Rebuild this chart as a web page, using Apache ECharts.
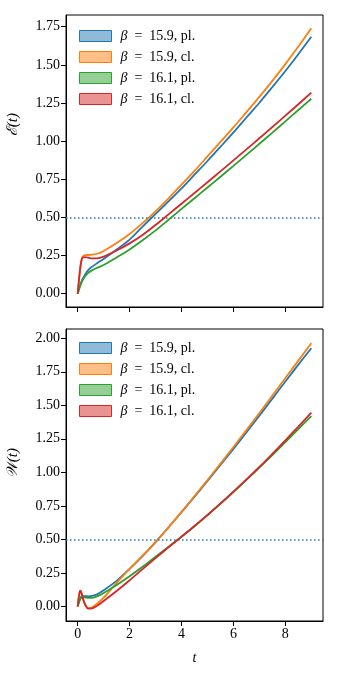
<!DOCTYPE html>
<html>
<head>
    <meta charset="utf-8">
    <script type="text/javascript" src="https://cdn.jsdelivr.net/npm/echarts@6/dist/echarts.min.js"></script>
    <title>charts</title>
    <style>
        html, body { margin: 0; padding: 0; background: #fff; }
    </style>
</head>
<body>
<div id="main" style="width: 340px;height:680px;"></div>
<script type="text/javascript">

    // time samples shared by all curves
    var tVals = [0, 0.05, 0.1, 0.15, 0.2, 0.3, 0.4, 0.5, 0.75, 1, 1.5, 2, 2.5, 3, 3.5, 4, 4.5, 5, 5.5, 6, 6.5, 7, 7.5, 8, 8.5, 9];

    // E(t), top panel
    var e159pl = [0, 0.03, 0.058, 0.082, 0.1, 0.13, 0.153, 0.17, 0.2, 0.228, 0.29, 0.355, 0.44, 0.523, 0.605, 0.69, 0.78, 0.87, 0.963, 1.057, 1.155, 1.252, 1.355, 1.46, 1.57, 1.684];
    var e159cl = [0, 0.09, 0.17, 0.225, 0.245, 0.253, 0.254, 0.255, 0.262, 0.28, 0.332, 0.392, 0.463, 0.54, 0.625, 0.715, 0.805, 0.9, 0.995, 1.09, 1.19, 1.29, 1.395, 1.505, 1.62, 1.74];
    var e161pl = [0, 0.028, 0.053, 0.075, 0.092, 0.118, 0.135, 0.148, 0.17, 0.188, 0.238, 0.29, 0.35, 0.415, 0.485, 0.556, 0.626, 0.696, 0.767, 0.838, 0.91, 0.983, 1.056, 1.13, 1.204, 1.278];
    var e161cl = [0, 0.09, 0.17, 0.222, 0.238, 0.24, 0.236, 0.232, 0.232, 0.243, 0.283, 0.33, 0.385, 0.45, 0.52, 0.59, 0.66, 0.731, 0.802, 0.874, 0.946, 1.019, 1.093, 1.167, 1.242, 1.318];

    // W(t), bottom panel
    var w159pl = [0, 0.035, 0.062, 0.074, 0.077, 0.077, 0.075, 0.076, 0.09, 0.12, 0.19, 0.28, 0.375, 0.48, 0.59, 0.703, 0.818, 0.935, 1.055, 1.175, 1.298, 1.423, 1.55, 1.677, 1.803, 1.925];
    var w159cl = [0, 0.075, 0.118, 0.095, 0.055, 0.008, -0.013, -0.012, 0.02, 0.065, 0.175, 0.28, 0.378, 0.48, 0.59, 0.705, 0.823, 0.943, 1.065, 1.189, 1.315, 1.443, 1.573, 1.703, 1.833, 1.963];
    var w161pl = [0, 0.03, 0.055, 0.065, 0.068, 0.066, 0.063, 0.063, 0.075, 0.1, 0.16, 0.225, 0.295, 0.37, 0.445, 0.52, 0.598, 0.68, 0.765, 0.853, 0.943, 1.035, 1.129, 1.225, 1.322, 1.42];
    var w161cl = [0, 0.08, 0.118, 0.1, 0.06, 0.008, -0.016, -0.016, 0.005, 0.04, 0.115, 0.195, 0.278, 0.36, 0.44, 0.52, 0.6, 0.683, 0.768, 0.856, 0.947, 1.04, 1.138, 1.239, 1.341, 1.445];

    var names = ['β = 15.9, pl.', 'β = 15.9, cl.', 'β = 16.1, pl.', 'β = 16.1, cl.'];
    var colors = ['#1f77b4', '#ff7f0e', '#2ca02c', '#d62728'];
    var fills = ['rgba(31,119,180,0.5)', 'rgba(255,127,14,0.5)', 'rgba(44,160,44,0.5)', 'rgba(214,39,40,0.5)'];

    var xTicks = [0, 2, 4, 6, 8];
    var eTicks = [0, 0.25, 0.5, 0.75, 1.0, 1.25, 1.5, 1.75];
    var wTicks = [0, 0.25, 0.5, 0.75, 1.0, 1.25, 1.5, 1.75, 2.0];
    var threshold = 0.5;

    var font = 'Liberation Serif';

    function pairs(ys) {
        var out = [];
        for (var i = 0; i < tVals.length; i++) {
            out.push([tVals[i], ys[i]]);
        }
        return out;
    }

    function xAxisFor(idx, showLabels) {
        return {
            type: 'value',
            gridIndex: idx,
            min: -0.45,
            max: 9.45,
            splitLine: { show: false },
            axisLine: { onZero: false, lineStyle: { color: '#000', width: 1 } },
            axisTick: { inside: false, length: 5, customValues: xTicks, lineStyle: { color: '#000' } },
            axisLabel: {
                show: showLabels, customValues: xTicks, margin: 6,
                color: '#000', fontFamily: font, fontSize: 14
            },
            name: showLabels ? 't' : '',
            nameLocation: 'middle',
            nameGap: 30,
            nameTextStyle: { color: '#000', fontFamily: font, fontSize: 14, fontStyle: 'italic' }
        };
    }

    function yAxisFor(idx, lo, hi, ticks) {
        return {
            type: 'value',
            gridIndex: idx,
            min: lo,
            max: hi,
            splitLine: { show: false },
            axisLine: { show: true, onZero: false, lineStyle: { color: '#000', width: 1 } },
            axisTick: { show: true, length: 5, customValues: ticks, lineStyle: { color: '#000' } },
            axisLabel: {
                customValues: ticks, margin: 6, color: '#000', fontFamily: font, fontSize: 14,
                formatter: function (v) { return v.toFixed(2); }
            }
        };
    }

    function legendFor(top) {
        var data = [];
        for (var i = 0; i < names.length; i++) {
            data.push({
                name: names[i],
                icon: 'rect',
                itemStyle: { color: fills[i], borderColor: colors[i], borderWidth: 1 }
            });
        }
        return {
            orient: 'vertical',
            left: 79,
            top: top,
            padding: 0,
            itemWidth: 32,
            itemHeight: 11,
            itemGap: 7,
            selectedMode: false,
            data: data,
            formatter: function (name) {
                return '{i|β}' + name.slice(1).replace(' = ', '\u2002=\u2002');
            },
            textStyle: {
                color: '#000', fontFamily: font, fontSize: 14, padding: [0, 0, 0, 4],
                rich: { i: { fontFamily: font, fontSize: 14, fontStyle: 'italic', color: '#000' } }
            }
        };
    }

    var series = [];
    var topSets = [e159pl, e159cl, e161pl, e161cl];
    var botSets = [w159pl, w159cl, w161pl, w161cl];
    for (var k = 0; k < 4; k++) {
        series.push({
            name: names[k], type: 'line', xAxisIndex: 0, yAxisIndex: 0,
            data: pairs(topSets[k]), showSymbol: false, smooth: 0.3,
            lineStyle: { color: colors[k], width: 1.8 }, itemStyle: { color: colors[k] },
            silent: true, z: 3 + k
        });
    }
    for (var k = 0; k < 4; k++) {
        series.push({
            name: names[k], type: 'line', xAxisIndex: 1, yAxisIndex: 1,
            data: pairs(botSets[k]), showSymbol: false, smooth: 0.3,
            lineStyle: { color: colors[k], width: 1.8 }, itemStyle: { color: colors[k] },
            silent: true, z: 3 + k
        });
    }
    // dotted threshold lines
    [0, 1].forEach(function (g) {
        series.push({
            type: 'line', xAxisIndex: g, yAxisIndex: g, data: [],
            markLine: {
                silent: true, symbol: 'none', animation: false,
                label: { show: false },
                lineStyle: { color: '#1f77b4', width: 1.5, type: [1.5, 2.5] },
                data: [{ yAxis: threshold }]
            },
            z: 2
        });
    });

    var myChart = echarts.init(document.getElementById('main'));
    var option = {
        animation: false,
        backgroundColor: '#fff',
        grid: [
            { left: 66, top: 15, width: 257, height: 292, show: true, borderColor: '#000', borderWidth: 1, backgroundColor: 'transparent' },
            { left: 66, top: 329, width: 257, height: 292, show: true, borderColor: '#000', borderWidth: 1, backgroundColor: 'transparent' }
        ],
        xAxis: [xAxisFor(0, false), xAxisFor(1, true)],
        yAxis: [yAxisFor(0, -0.087, 1.827, eTicks), yAxisFor(1, -0.109, 2.069, wTicks)],
        legend: [legendFor(29), legendFor(341)],
        graphic: [
            {
                type: 'text', left: 6, top: 113, rotation: Math.PI / 2,
                style: { text: 'ℰ(t)', font: 'italic 15px "Liberation Serif"', fill: '#000' }
            },
            {
                type: 'text', left: 6, top: 448, rotation: Math.PI / 2,
                style: { text: '𝒲(t)', font: 'italic 15px "Liberation Serif"', fill: '#000' }
            }
        ],
        series: series
    };
    myChart.setOption(option);

</script>
</body>
</html>
